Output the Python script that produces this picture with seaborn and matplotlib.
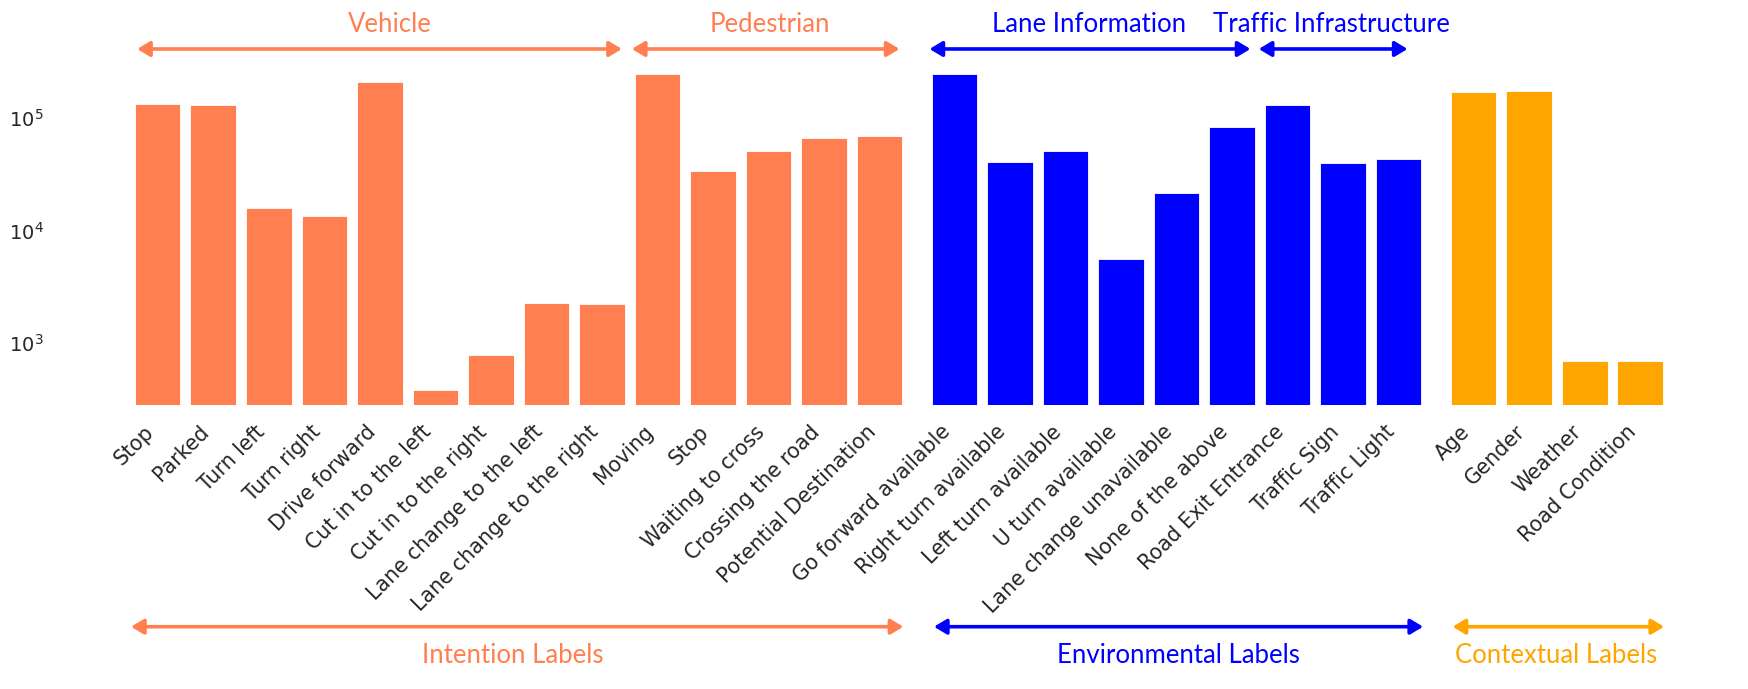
import numpy as np
import pandas as pd
import matplotlib
matplotlib.use("Agg")
import matplotlib.pyplot as plt
import seaborn as sns
from matplotlib.ticker import NullLocator

# counts per label (log scale)
intention_labels = ["Stop", "Parked", "Turn left", "Turn right", "Drive forward",
                    "Cut in to the left", "Cut in to the right",
                    "Lane change to the left", "Lane change to the right",
                    "Moving", "Stop", "Waiting to cross", "Crossing the road",
                    "Potential Destination"]
intention_counts = [133000, 130000, 15700, 13500, 208000, 380, 780, 2250, 2200,
                    246000, 33600, 50600, 66000, 69700]

environment_labels = ["Go forward available", "Right turn available",
                      "Left turn available", "U turn available",
                      "Lane change unavailable", "None of the above",
                      "Road Exit Entrance", "Traffic Sign", "Traffic Light"]
environment_counts = [246000, 40400, 50600, 5550, 21400, 83700, 129700, 39500, 43500]

context_labels = ["Age", "Gender", "Weather", "Road Condition"]
context_counts = [169000, 173000, 690, 690]

c_int, c_env, c_ctx = "#FF7F50", "#0000FF", "#FFA500"

sns.set_style("white")
plt.rcParams['font.family'] = ['DejaVu Sans']
label_font = "Lato"

fig, axes = plt.subplots(1, 3, figsize=(17.49, 6.89), dpi=100, sharey=True,
                         gridspec_kw={'width_ratios': [14, 9, 4], 'wspace': 0.039})
fig.subplots_adjust(left=0.0743, right=0.9537, bottom=0.4122, top=0.9129)

groups = [(intention_labels, intention_counts, c_int),
          (environment_labels, environment_counts, c_env),
          (context_labels, context_counts, c_ctx)]

for ax, (labels, counts, col) in zip(axes, groups):
    df = pd.DataFrame({'pos': np.arange(len(labels)), 'count': counts})
    sns.barplot(data=df, x='pos', y='count', ax=ax, color=col, saturation=1,
                width=0.82, errorbar=None, edgecolor='white', linewidth=0.6)
    ax.set_yscale('log')
    ax.set_ylim(281, 328000)
    ax.yaxis.set_minor_locator(NullLocator())
    ax.set_xlim(-0.5, len(labels) - 0.5)
    ax.set_xticks(range(len(labels)))
    ax.set_xticklabels(labels, rotation=45, ha='right', fontsize=14.8)
    ax.tick_params(axis='x', length=0, pad=12)
    ax.set_xlabel("")
    ax.set_ylabel("")
    sns.despine(ax=ax, left=True, bottom=True)

axes[0].tick_params(axis='y', length=0, pad=62, labelsize=14)
axes[1].tick_params(axis='y', length=0)
axes[2].tick_params(axis='y', length=0)


def bracket(ax, x0, x1, y, color, text=None, xt=None, yt=None):
    tr = ax.get_xaxis_transform()
    ax.annotate("", xy=(x1, y), xytext=(x0, y), xycoords=tr, textcoords=tr,
                annotation_clip=False,
                arrowprops=dict(arrowstyle='<|-|>,head_length=0.5,head_width=0.3',
                                color=color, lw=2.6, mutation_scale=15,
                                shrinkA=0, shrinkB=0))
    if text:
        ax.text(xt, yt, text, transform=tr, ha='center', va='center',
                color=color, fontsize=18.5, family=label_font)


# sub-group headers above the bars
bracket(axes[0], -0.37, 8.36, 1.032, c_int, "Vehicle", 4.18, 1.1015)
bracket(axes[0], 8.54, 13.36, 1.032, c_int, "Pedestrian", 11.02, 1.1015)
bracket(axes[1], -0.45, 5.33, 1.032, c_env, "Lane Information", 2.42, 1.1015)
bracket(axes[1], 5.48, 8.16, 1.032, c_env, "Traffic Infrastructure", 6.79, 1.1015)

# label families below the tick labels
bracket(axes[0], -0.48, 13.43, -0.6427, c_int, "Intention Labels", 6.4, -0.725)
bracket(axes[1], -0.37, 8.44, -0.6427, c_env, "Environmental Labels", 4.03, -0.725)
bracket(axes[2], -0.38, 3.43, -0.6427, c_ctx, "Contextual Labels", 1.49, -0.725)

plt.savefig("out.png", dpi=100)
